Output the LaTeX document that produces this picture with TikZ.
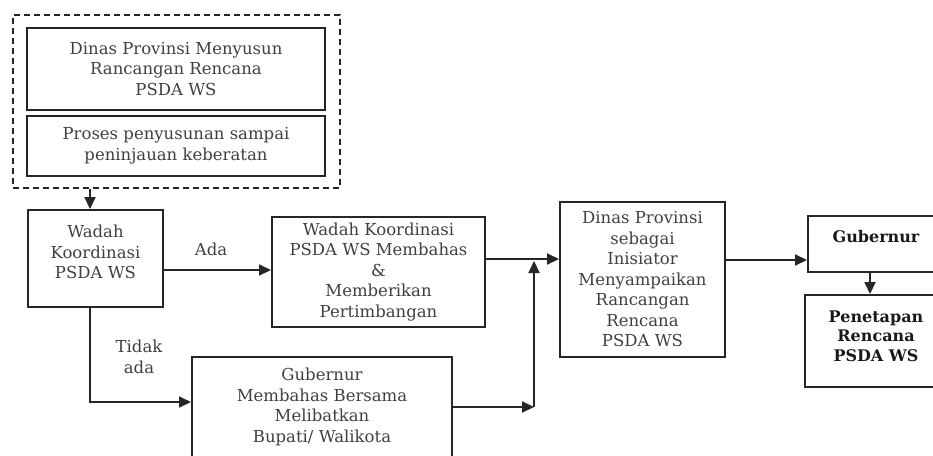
\documentclass[tikz,border=0pt]{standalone}
\usepackage{fontspec}
\setmainfont{DejaVu Serif}
\usetikzlibrary{arrows.meta}
\begin{document}
\begin{tikzpicture}[x=1pt,y=-1pt,
  box/.style={draw=black!85, line width=2pt, rectangle, inner sep=0pt, align=center,
     font=\fontsize{16.5}{20.5}\selectfont, text=black!75},
  txt/.style={align=center, font=\fontsize{16.5}{20.5}\selectfont, text=black!75, inner sep=0pt},
  btxt/.style={txt, font=\fontsize{16}{19.5}\selectfont\bfseries, text=black!90},
  conn/.style={draw=black!85, line width=2pt, -{Triangle[length=12pt,width=11pt]}},
  dashbox/.style={draw=black!85, line width=2pt, dash pattern=on 6pt off 4pt, rectangle, inner sep=0pt}]
\useasboundingbox (0,0) rectangle (933,455);
\clip (0,0) rectangle (933,455);

% dashed group
\node[dashbox, minimum width=327pt, minimum height=173pt] (dash) at (176.5,101.5) {};
\node[box, minimum width=298pt, minimum height=82pt] (b1) at (176,69)
  {Dinas Provinsi Menyusun\\Rancangan Rencana\\PSDA WS};
\node[box, minimum width=298pt, minimum height=60pt] (b2) at (176,146)
  {Proses penyusunan sampai\\peninjauan keberatan};

% Wadah
\node[box, minimum width=135pt, minimum height=97pt] (wad) at (95.5,258.5) {};
\node[txt] (wadt) at (95.5,252) {Wadah\\Koordinasi\\PSDA WS};

% Wadah Koordinasi membahas
\node[box, minimum width=213pt, minimum height=110pt] (wk) at (378.5,272)
  {Wadah Koordinasi\\PSDA WS Membahas\\\&\\Memberikan\\Pertimbangan};

% Gubernur membahas
\node[box, minimum width=260pt, minimum height=100pt] (gm) at (322,407)
  {Gubernur\\Membahas Bersama\\Melibatkan\\Bupati/ Walikota};

% Dinas Provinsi
\node[box, minimum width=165pt, minimum height=155pt] (din) at (642.5,279.5)
  {Dinas Provinsi\\sebagai\\Inisiator\\Menyampaikan\\Rancangan\\Rencana\\PSDA WS};

% Gubernur
\node[box, minimum width=127pt, minimum height=56pt] (gub) at (871.5,244) {};
\node[btxt] (gubt) at (876,237) {Gubernur};

% Penetapan
\node[box, minimum width=130pt, minimum height=92pt] (pen) at (870,341) {};
\node[btxt] (pent) at (876,336) {Penetapan\\Rencana\\PSDA WS};

% labels
\node[txt] (ada) at (211,249) {Ada};
\node[txt] (tidak) at (139,357) {Tidak\\ada};

% helper coordinates
\coordinate (xa) at (90,0);
\coordinate (ya) at (0,270);
\coordinate (yt) at (0,402);
\coordinate (yb) at (0,259);
\coordinate (yc) at (0,407);
\coordinate (j1) at (534,407);
\coordinate (j2) at (534,261);
\coordinate (yd) at (0,260);
\coordinate (xg) at (870,0);

% connectors
\draw[conn] (dash.south -| xa) -- (wad.north -| xa);
\draw[conn] (wad.east |- ya) -- (wk.west |- ya);
\draw[conn] (wad.south -| xa) |- (gm.west |- yt);
\draw[conn] (wk.east |- yb) -- (din.west |- yb);
\draw[conn] (gm.east |- yc) -- (j1);
\draw[conn] (j1) -- (j2);
\draw[conn] (din.east |- yd) -- (gub.west |- yd);
\draw[conn] (gub.south -| xg) -- (pen.north -| xg);
\end{tikzpicture}
\end{document}
